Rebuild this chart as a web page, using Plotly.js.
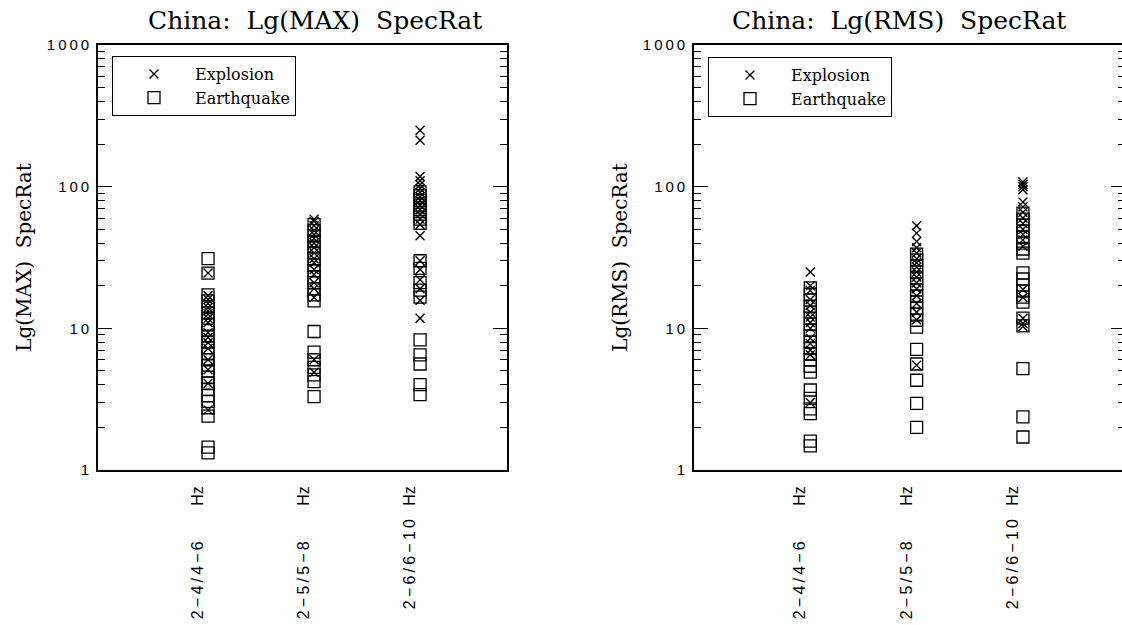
<!DOCTYPE html>
<html>
<head>
<meta charset="utf-8">
<script src="https://cdn.plot.ly/plotly-3.0.1.min.js"></script>
<style>html,body{margin:0;padding:0;background:#fff;overflow:hidden;}#chart{width:1125px;height:625px;}</style>
</head>
<body>
<div id="chart"></div>
<script>
// Frequency-band categories (x tick labels)
const categories = [
  "2\u2009\u2212\u20094\u2009/\u20094\u2009\u2212\u20096\u00a0\u00a0\u00a0\u00a0\u00a0\u00a0\u00a0\u00a0Hz",
  "2\u2009\u2212\u20095\u2009/\u20095\u2009\u2212\u20098\u00a0\u00a0\u00a0\u00a0\u00a0\u00a0\u00a0\u00a0Hz",
  "2\u2009\u2212\u20096\u2009/\u20096\u2009\u2212\u20091\u20090\u00a0\u00a0\u00a0Hz"
];
const yTickVals = [1, 10, 100, 1000];
const yTickText = ["1", "1\u20090", "1\u20090\u20090", "1\u20090\u20090\u20090"];

// Lg(MAX) spectral ratios, one list per category
const maxExplosion_2_4_4_6 = [24.6, 17, 16, 15, 14, 13.3, 12.6, 11.8, 11, 9.3, 8.6, 7.9, 7.2, 6, 5.1, 4.1, 2.65];
const maxExplosion_2_5_5_8 = [59, 57, 53, 49, 46, 43, 40, 37, 34, 31, 29, 26, 24, 21, 19, 16.5, 6.0, 4.9];
const maxExplosion_2_6_6_10 = [250, 213, 118, 110, 103, 97, 91, 85, 80, 74, 69, 64, 59, 54, 45, 30, 26, 22, 19, 15.8, 11.8];
const maxEarthquake_2_4_4_6 = [31, 24.5, 17.2, 15.6, 14.2, 12.9, 11.7, 10.6, 9.7, 8.8, 8.0, 7.3, 6.6, 6.0, 5.5, 5.0, 4.5, 4.1, 3.7, 3.35, 3.05, 2.75, 2.4, 1.45, 1.32];
const maxEarthquake_2_5_5_8 = [54, 49, 45, 41, 37.6, 34.2, 30.9, 28.1, 25.5, 23.1, 21, 19, 17.2, 15.6, 9.5, 6.8, 6.0, 5.3, 4.7, 4.2, 3.3];
const maxEarthquake_2_6_6_10 = [92, 86, 80, 74, 69, 64, 59, 55, 30, 26.5, 21, 18.6, 16.6, 8.3, 6.5, 5.6, 4.0, 3.4];

// Lg(RMS) spectral ratios, one list per category
const rmsExplosion_2_4_4_6 = [25, 20, 18.5, 16, 14.5, 13, 12, 11, 10, 8.5, 7.8, 7, 6.5, 3.0];
const rmsExplosion_2_5_5_8 = [53, 47, 41, 37, 34, 31, 29, 27, 25, 23, 21, 19, 17, 15, 13, 11.5, 5.5];
const rmsExplosion_2_6_6_10 = [108, 104, 100, 95, 78, 72, 66, 60, 55, 50, 46, 42, 38, 18.8, 16.5, 11.8, 10.8, 10.3];
const rmsEarthquake_2_4_4_6 = [19.3, 17.4, 15.8, 14.3, 13, 11.8, 10.7, 9.7, 8.8, 8, 7.2, 6.6, 6, 5.4, 4.9, 3.67, 3.2, 2.7, 2.5, 1.6, 1.48];
const rmsEarthquake_2_5_5_8 = [33.4, 30.4, 27.5, 25, 22.7, 20.5, 18.7, 16.9, 15.3, 13.9, 12.6, 11.4, 10.2, 7.1, 5.6, 4.3, 2.95, 2.0];
const rmsEarthquake_2_6_6_10 = [65, 59, 53.5, 48.5, 44, 40, 36.3, 34, 24.6, 22.3, 20.2, 18.3, 16.6, 15.3, 11.8, 10.4, 5.2, 2.37, 1.71];

function build(groups) {
  const xs = [], ys = [];
  groups.forEach((vals, i) => { vals.forEach(v => { xs.push(i + 1); ys.push(v); }); });
  return {x: xs, y: ys};
}

const W = 1125, H = 625;
const serif = "DejaVu Serif, Liberation Serif, serif";
const sans = "Liberation Sans, Arial, sans-serif";

const expMarker = {symbol: "x-thin-open", size: 9, color: "black", line: {color: "black", width: 1.4}};
const eqMarker = {symbol: "square-open", size: 12, color: "black", line: {color: "black", width: 1.3}};

const mE = build([maxExplosion_2_4_4_6, maxExplosion_2_5_5_8, maxExplosion_2_6_6_10]);
const mQ = build([maxEarthquake_2_4_4_6, maxEarthquake_2_5_5_8, maxEarthquake_2_6_6_10]);
const rE = build([rmsExplosion_2_4_4_6, rmsExplosion_2_5_5_8, rmsExplosion_2_6_6_10]);
const rQ = build([rmsEarthquake_2_4_4_6, rmsEarthquake_2_5_5_8, rmsEarthquake_2_6_6_10]);

const data = [
  {type: "scatter", mode: "markers", name: "Explosion", x: mE.x, y: mE.y, xaxis: "x", yaxis: "y", marker: expMarker, legend: "legend"},
  {type: "scatter", mode: "markers", name: "Earthquake", x: mQ.x, y: mQ.y, xaxis: "x", yaxis: "y", marker: eqMarker, legend: "legend"},
  {type: "scatter", mode: "markers", name: "Explosion", x: rE.x, y: rE.y, xaxis: "x2", yaxis: "y2", marker: expMarker, legend: "legend2"},
  {type: "scatter", mode: "markers", name: "Earthquake", x: rQ.x, y: rQ.y, xaxis: "x2", yaxis: "y2", marker: eqMarker, legend: "legend2"}
];

function xAxis(domain, range, anchor) {
  return {
    domain: domain, range: range, anchor: anchor,
    tickvals: [1, 2, 3], ticktext: categories, tickangle: -90,
    ticks: "", showline: true, linecolor: "black", linewidth: 1.8, mirror: true,
    showgrid: false, zeroline: false, automargin: false,
    tickfont: {family: sans, size: 16, color: "black"},
    ticklabelshift: -10, ticklabelstandoff: 8
  };
}
function yAxis(anchor, title) {
  return {
    type: "log", range: [0, 3], domain: [0.248, 0.928], anchor: anchor,
    tickvals: yTickVals, ticktext: yTickText,
    ticks: "inside", ticklen: 14, tickwidth: 1.3, tickcolor: "black",
    showline: true, linecolor: "black", linewidth: 1.8, mirror: "ticks",
    minor: {ticks: "inside", ticklen: 7, tickwidth: 1, tickcolor: "black", dtick: "D1", showgrid: false},
    showgrid: false, zeroline: false, automargin: false,
    tickfont: {family: sans, size: 15, color: "black"},
    ticklabelstandoff: 4,
    title: {text: title, font: {family: serif, size: 20, color: "black"}, standoff: 10}
  };
}

const legendBase = {
  xanchor: "left", yanchor: "top", bgcolor: "white",
  bordercolor: "black", borderwidth: 1,
  font: {family: serif, size: 16, color: "black"},
  itemwidth: 72, tracegroupgap: 0,
  entrywidth: 200, entrywidthmode: "pixels"
};

const layout = {
  width: W, height: H,
  margin: {l: 0, r: 0, t: 0, b: 0},
  paper_bgcolor: "white", plot_bgcolor: "white",
  showlegend: true,
  xaxis: xAxis([98 / W, 507 / W], [-0.038, 3.82], "y"),
  yaxis: yAxis("x", "\u00a0\u00a0\u00a0Lg(MAX)\u00a0\u00a0SpecRat"),
  xaxis2: xAxis([694 / W, 1], [-0.094, 3.96], "y2"),
  yaxis2: yAxis("x2", "\u00a0\u00a0\u00a0Lg(RMS)\u00a0\u00a0SpecRat"),
  legend: Object.assign({x: 112 / W, y: (H - 56) / H}, legendBase),
  legend2: Object.assign({x: 708 / W, y: (H - 57) / H}, legendBase),
  annotations: [
    {text: "China:\u00a0\u00a0Lg(MAX)\u00a0\u00a0SpecRat", xref: "paper", yref: "paper", x: 315 / W, y: (H - 20) / H, showarrow: false, xanchor: "center", yanchor: "middle", font: {family: serif, size: 25, color: "black"}},
    {text: "China:\u00a0\u00a0Lg(RMS)\u00a0\u00a0SpecRat", xref: "paper", yref: "paper", x: 899 / W, y: (H - 20) / H, showarrow: false, xanchor: "center", yanchor: "middle", font: {family: serif, size: 25, color: "black"}}
  ]
};

Plotly.newPlot("chart", data, layout, {displayModeBar: false, staticPlot: true});
</script>
</body>
</html>
